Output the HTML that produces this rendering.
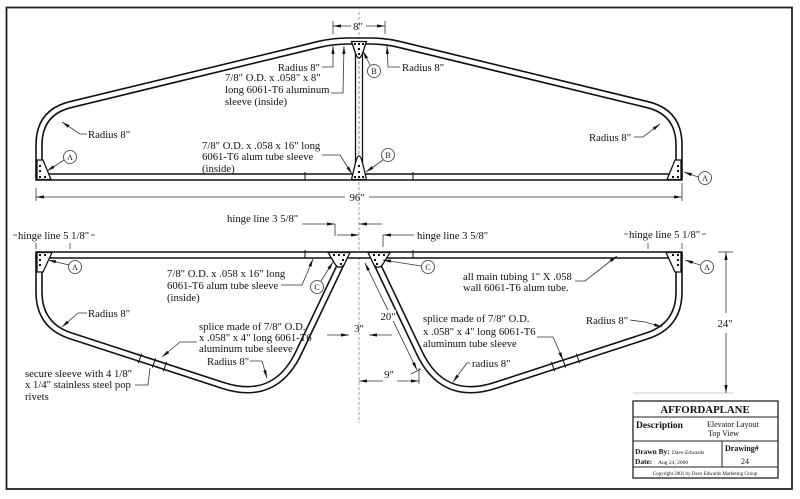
<!DOCTYPE html>
<html><head><meta charset="utf-8"><style>
html,body{margin:0;padding:0;background:#fff;}
svg{display:block;}
text{font-family:"Liberation Serif",serif;fill:#111;}
</style></head><body>
<svg width="800" height="499" viewBox="0 0 800 499" xmlns="http://www.w3.org/2000/svg">
<defs>
<marker id="a" viewBox="0 0 10 4" refX="10" refY="2" markerWidth="8" markerHeight="3.2" markerUnits="userSpaceOnUse" orient="auto-start-reverse"><path d="M0,0 L10,2 L0,4 z" fill="#111"/></marker>
</defs>
<rect x="0" y="0" width="800" height="499" fill="#fff"/>
<!-- border -->
<rect x="6.5" y="7.5" width="785.5" height="481.5" fill="none" stroke="#222" stroke-width="1.8"/>

<!-- center line -->
<line x1="359" y1="12" x2="359" y2="423" stroke="#777" stroke-width="0.7" stroke-dasharray="3,2"/>

<!-- ===== TOP FRAME ===== -->
<g fill="none" stroke-linejoin="round">
<path d="M39,177 L39,145 Q39,112 71,104.5 L318.4,44.5 Q333,41 348,41 L370,41 Q385,41 399.6,44.5 L647,104.5 Q679,112 679,145 L679,177" stroke="#111" stroke-width="7.6"/>
<path d="M39,177 L39,145 Q39,112 71,104.5 L318.4,44.5 Q333,41 348,41 L370,41 Q385,41 399.6,44.5 L647,104.5 Q679,112 679,145 L679,177" stroke="#fff" stroke-width="4.4"/>
</g>
<rect x="36" y="174" width="646" height="6" fill="#fff" stroke="#111" stroke-width="1.5"/>
<!-- strut -->
<rect x="355.5" y="44" width="7" height="130" fill="#fff" stroke="#111" stroke-width="1.3"/>
<line x1="359" y1="46" x2="359" y2="172" stroke="#666" stroke-width="0.8" stroke-dasharray="3,2"/>
<!-- ticks -->
<line x1="305" y1="172" x2="305" y2="180" stroke="#111" stroke-width="1"/>
<line x1="413" y1="172" x2="413" y2="180" stroke="#111" stroke-width="1"/>
<!-- gussets top -->
<g fill="#fff" stroke="#111" stroke-width="1.3">
<polygon points="37,160 43,160 51,179.5 37,179.5"/>
<polygon points="681,160 675,160 667,179.5 681,179.5"/>
<path d="M351.5,41.5 L366.5,41.5 L363,52 Q361,58 359,58 Q357,58 355,52 Z"/>
<path d="M351.5,179.5 L366.5,179.5 L363,165 Q361,156 359,156 Q357,156 355,165 Z"/>
</g>
<g fill="#111">
<rect x="39" y="165" width="2" height="2"/><rect x="39" y="170" width="2" height="2"/><rect x="39" y="176" width="2" height="2"/><rect x="44" y="176" width="2" height="2"/>
<rect x="677" y="165" width="2" height="2"/><rect x="677" y="170" width="2" height="2"/><rect x="677" y="176" width="2" height="2"/><rect x="672" y="176" width="2" height="2"/>
<rect x="354" y="43" width="2" height="2"/><rect x="358" y="43" width="2" height="2"/><rect x="362" y="43" width="2" height="2"/><rect x="358" y="48" width="2" height="2"/><rect x="358" y="53" width="2" height="2"/>
<rect x="354" y="176" width="2" height="2"/><rect x="358" y="176" width="2" height="2"/><rect x="362" y="176" width="2" height="2"/><rect x="358" y="171" width="2" height="2"/><rect x="358" y="165" width="2" height="2"/>
</g>

<!-- ===== BOTTOM FRAME ===== -->
<g fill="none" stroke-linejoin="round">
<path d="M39,255 L39,292 Q39,325.5 70.9,335.9 L222.7,385.35 Q275,402.4 298.65,352.7 L345.65,254" stroke="#111" stroke-width="7.6"/>
<path d="M39,255 L39,292 Q39,325.5 70.9,335.9 L222.7,385.35 Q275,402.4 298.65,352.7 L345.65,254" stroke="#fff" stroke-width="4.4"/>
<path d="M679,255 L679,292 Q679,325.5 647.1,335.9 L495.3,385.35 Q443,402.4 419.35,352.7 L372.35,254" stroke="#111" stroke-width="7.6"/>
<path d="M679,255 L679,292 Q679,325.5 647.1,335.9 L495.3,385.35 Q443,402.4 419.35,352.7 L372.35,254" stroke="#fff" stroke-width="4.4"/>
</g>
<rect x="36" y="252" width="646" height="6" fill="#fff" stroke="#111" stroke-width="1.5"/>
<line x1="305" y1="250" x2="305" y2="258" stroke="#111" stroke-width="1"/>
<line x1="413" y1="250" x2="413" y2="258" stroke="#111" stroke-width="1"/>
<!-- splice ticks -->
<g stroke="#111" stroke-width="1">
<line x1="141.5" y1="353.6" x2="138.4" y2="363.1"/>
<line x1="155.5" y1="358.2" x2="152.4" y2="367.7"/>
<line x1="166.5" y1="361.8" x2="163.4" y2="371.3"/>
<line x1="576.5" y1="353.6" x2="579.6" y2="363.1"/>
<line x1="562.5" y1="358.2" x2="565.6" y2="367.7"/>
<line x1="551.5" y1="361.8" x2="554.6" y2="371.3"/>
</g>
<!-- gussets bottom -->
<g fill="#fff" stroke="#111" stroke-width="1.3">
<polygon points="37,252.5 52,252.5 43,272 37,272"/>
<polygon points="681,252.5 666,252.5 675,272 681,272"/>
<path d="M328,252.5 L350,252.5 L344,265 Q339,270 335,264 Z"/>
<path d="M390,252.5 L368,252.5 L374,265 Q379,270 383,264 Z"/>
</g>
<g fill="#111">
<rect x="39" y="259" width="2" height="2"/><rect x="39" y="264" width="2" height="2"/><rect x="39" y="254" width="2" height="2"/><rect x="44" y="254" width="2" height="2"/>
<rect x="677" y="259" width="2" height="2"/><rect x="677" y="264" width="2" height="2"/><rect x="677" y="254" width="2" height="2"/><rect x="672" y="254" width="2" height="2"/>
<rect x="333" y="254" width="2" height="2"/><rect x="338" y="254" width="2" height="2"/><rect x="343" y="254" width="2" height="2"/><rect x="342" y="259" width="2" height="2"/><rect x="340" y="263" width="2" height="2"/>
<rect x="383" y="254" width="2" height="2"/><rect x="378" y="254" width="2" height="2"/><rect x="373" y="254" width="2" height="2"/><rect x="374" y="259" width="2" height="2"/><rect x="376" y="263" width="2" height="2"/>
</g>

<!-- ===== LEADERS ===== -->
<g fill="none" stroke="#333" stroke-width="0.8">
<polyline points="87,134 80,134 62,122" marker-end="url(#a)"/>
<polyline points="634,137 643,137 660,124" marker-end="url(#a)"/>
<polyline points="322,67 333,67 333,46" marker-end="url(#a)"/>
<polyline points="331,93 343,93 344,46" marker-end="url(#a)"/>
<polyline points="400,67 388,67 387,46" marker-end="url(#a)"/>
<polyline points="370,65 363,51" marker-end="url(#a)"/>
<polyline points="383,160 366,172" marker-end="url(#a)"/>
<polyline points="64,160 47,171" marker-end="url(#a)"/>
<polyline points="698,177 684,172" marker-end="url(#a)"/>
<polyline points="322,155 340,155 352,174" marker-end="url(#a)"/>
<!-- bottom -->
<polyline points="69,265 48,260" marker-end="url(#a)"/>
<polyline points="700,265 685,260" marker-end="url(#a)"/>
<polyline points="321,281 333,262" marker-end="url(#a)"/>
<polyline points="421,266 383,260" marker-end="url(#a)"/>
<polyline points="281,285 302,285 313,259" marker-end="url(#a)"/>
<polyline points="87,313 78,313 62,327" marker-end="url(#a)"/>
<polyline points="197,342 180,342 162,357" marker-end="url(#a)"/>
<polyline points="135,385 148,385 150,368"/>
<polyline points="250,361 262,361 267,378" marker-end="url(#a)"/>
<polyline points="537,337 553,337 563,360" marker-end="url(#a)"/>
<polyline points="470,363 467,363 453,382" marker-end="url(#a)"/>
<polyline points="630,320 645,322 662,327" marker-end="url(#a)"/>
<polyline points="575,281 585,281 617,256" marker-end="url(#a)"/>
</g>

<!-- circles -->
<g fill="#fff" stroke="#333" stroke-width="0.8">
<circle cx="374" cy="71" r="6.5"/>
<circle cx="388" cy="155" r="6.5"/>
<circle cx="70" cy="157" r="6.5"/>
<circle cx="705" cy="178" r="6.5"/>
<circle cx="75" cy="267" r="6.5"/>
<circle cx="707" cy="267" r="6.5"/>
<circle cx="317" cy="287" r="6.5"/>
<circle cx="428" cy="267" r="6.5"/>
</g>
<g font-size="8" text-anchor="middle">
<text x="374" y="74">B</text>
<text x="388" y="158">B</text>
<text x="70" y="160">A</text>
<text x="705" y="181">A</text>
<text x="75" y="270">A</text>
<text x="707" y="270">A</text>
<text x="317" y="290">C</text>
<text x="428" y="270">C</text>
</g>

<!-- ===== DIMENSIONS ===== -->
<g fill="none" stroke="#333" stroke-width="0.8">
<!-- 8" -->
<line x1="333" y1="21" x2="333" y2="34"/>
<line x1="385" y1="21" x2="385" y2="34"/>
<line x1="351" y1="26" x2="333" y2="26" marker-end="url(#a)"/>
<line x1="366" y1="26" x2="385" y2="26" marker-end="url(#a)"/>
<!-- 96" -->
<line x1="36" y1="188" x2="36" y2="201"/>
<line x1="682" y1="183" x2="682" y2="201"/>
<line x1="345" y1="197" x2="36" y2="197" marker-end="url(#a)"/>
<line x1="369" y1="197" x2="682" y2="197" marker-end="url(#a)"/>
<!-- hinge line 3 5/8 left -->
<line x1="302" y1="224" x2="335" y2="224" marker-end="url(#a)"/>
<line x1="382" y1="224" x2="359" y2="224" marker-end="url(#a)"/>
<line x1="335" y1="224" x2="335" y2="236"/>
<!-- hinge line 3 5/8 right -->
<line x1="337" y1="235" x2="359" y2="235" marker-end="url(#a)"/>
<line x1="414" y1="235" x2="383" y2="235" marker-end="url(#a)"/>
<line x1="383" y1="235" x2="383" y2="247"/>
<!-- hinge line 5 1/8 -->
<line x1="36" y1="243" x2="36" y2="249"/>
<line x1="70" y1="243" x2="70" y2="249"/>
<line x1="648" y1="243" x2="648" y2="249"/>
<line x1="682" y1="243" x2="682" y2="249"/>
<line x1="13" y1="235" x2="17" y2="235"/>
<line x1="91" y1="235" x2="95" y2="235"/>
<line x1="624" y1="234" x2="628" y2="234"/>
<line x1="702" y1="234" x2="706" y2="234"/>
<!-- 3" -->
<line x1="327" y1="335" x2="349" y2="335" marker-end="url(#a)"/>
<line x1="392" y1="335" x2="369" y2="335" marker-end="url(#a)"/>
<!-- 20" -->
<line x1="365" y1="263" x2="417" y2="370" marker-start="url(#a)" marker-end="url(#a)"/>
<line x1="411" y1="374" x2="421" y2="369"/>
<!-- 9" -->
<line x1="383" y1="381" x2="359" y2="381" marker-end="url(#a)"/>
<line x1="397" y1="381" x2="419" y2="381" marker-end="url(#a)"/>
<line x1="419" y1="368" x2="419" y2="384"/>
<!-- 24" -->
<line x1="718" y1="252" x2="733" y2="252"/>
<line x1="633" y1="393" x2="733" y2="393" stroke="#999" stroke-width="0.6"/>
<line x1="726" y1="313" x2="726" y2="252" marker-end="url(#a)"/>
<line x1="726" y1="333" x2="726" y2="393" marker-end="url(#a)"/>
</g>
<rect x="380" y="310" width="16" height="11" fill="#fff"/>

<!-- ===== TEXT ===== -->
<g font-size="10.7">
<text x="358" y="30" text-anchor="middle">8"</text>
<text x="357" y="201" text-anchor="middle">96"</text>
<text x="88" y="138">Radius 8"</text>
<text x="589" y="141">Radius 8"</text>
<text x="320" y="71" text-anchor="end">Radius 8"</text>
<text x="225" y="81">7/8" O.D. x .058" x 8"</text>
<text x="225" y="93">long 6061-T6 aluminum</text>
<text x="225" y="105">sleeve (inside)</text>
<text x="402" y="71">Radius 8"</text>
<text x="202" y="149">7/8" O.D. x .058 x 16" long</text>
<text x="202" y="160">6061-T6 alum tube sleeve</text>
<text x="202" y="172">(inside)</text>

<text x="227" y="222">hinge line 3 5/8"</text>
<text x="417" y="239">hinge line 3 5/8"</text>
<text x="18" y="239">hinge line 5 1/8"</text>
<text x="629" y="238">hinge line 5 1/8"</text>
<text x="167" y="277">7/8" O.D. x .058 x 16" long</text>
<text x="167" y="289">6061-T6 alum tube sleeve</text>
<text x="167" y="301">(inside)</text>
<text x="88" y="317">Radius 8"</text>
<text x="199" y="330">splice made of 7/8" O.D.</text>
<text x="199" y="341">x .058" x 4" long 6061-T6</text>
<text x="199" y="352">aluminum tube sleeve</text>
<text x="207" y="365">Radius 8"</text>
<text x="25" y="377">secure sleeve with 4 1/8"</text>
<text x="25" y="388">x 1/4" stainless steel pop</text>
<text x="25" y="400">rivets</text>
<text x="463" y="280">all main tubing 1" X .058</text>
<text x="463" y="291">wall 6061-T6 alum tube.</text>
<text x="423" y="322">splice made of 7/8" O.D.</text>
<text x="423" y="335">x .058" x 4" long 6061-T6</text>
<text x="423" y="347">aluminum tube sleeve</text>
<text x="586" y="324">Radius 8"</text>
<text x="472" y="367">radius 8"</text>
<text x="359" y="332" text-anchor="middle">3"</text>
<text x="388" y="320" text-anchor="middle">20"</text>
<text x="389" y="378" text-anchor="middle">9"</text>
<text x="725" y="327" text-anchor="middle">24"</text>
</g>

<!-- ===== TITLE BLOCK ===== -->
<g fill="none" stroke="#222">
<rect x="633" y="401" width="145" height="77" stroke-width="1.3"/>
<line x1="633" y1="417" x2="778" y2="417" stroke-width="1"/>
<line x1="633" y1="441" x2="778" y2="441" stroke-width="1"/>
<line x1="722" y1="441" x2="722" y2="467" stroke-width="1"/>
<line x1="633" y1="467" x2="778" y2="467" stroke-width="1"/>
</g>
<text x="705" y="413" text-anchor="middle" font-size="10.8" font-weight="bold">AFFORDAPLANE</text>
<text x="636" y="428" font-size="9.5" font-weight="bold">Description</text>
<text x="707" y="427" font-size="8">Elevator Layout</text>
<text x="708" y="436" font-size="8">Top View</text>
<text x="635" y="454" font-size="7.4" font-weight="bold">Drawn By:</text>
<text x="672" y="454" font-size="5.5">Dave Edwards</text>
<text x="635" y="464" font-size="7.4" font-weight="bold">Date:</text>
<text x="658" y="464" font-size="5.5">Aug 24, 2000</text>
<text x="725" y="451" font-size="8" font-weight="bold">Drawing#</text>
<text x="745" y="464" font-size="8" text-anchor="middle">24</text>
<text x="705" y="475" font-size="5" text-anchor="middle">Copyright 2001 by Dave Edwards Marketing Group</text>
</svg>
</body></html>
